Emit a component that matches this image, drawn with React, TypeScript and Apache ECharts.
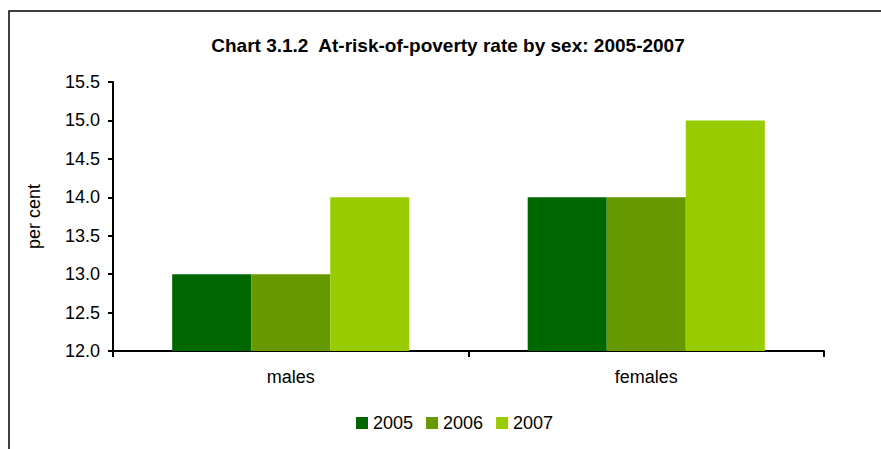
import React, { useEffect, useRef } from "react";
import * as echarts from "echarts";

const categories = ["males", "females"];
const years = ["2005", "2006", "2007"];
const values2005 = [13.0, 14.0];
const values2006 = [13.0, 14.0];
const values2007 = [14.0, 15.0];
const colors = ["#006600", "#669900", "#99CC00"];
const FONT = "'Liberation Sans', Arial, sans-serif";

export default function App() {
  const ref = useRef<HTMLDivElement>(null);
  useEffect(() => {
    if (!ref.current) return;
    const chart = echarts.init(ref.current, null, { renderer: "svg" });
    const seriesData = [values2005, values2006, values2007];
    chart.setOption({
      animation: false,
      backgroundColor: "#ffffff",
      textStyle: { fontFamily: FONT },
      title: {
        text: "Chart 3.1.2  At-risk-of-poverty rate by sex: 2005-2007",
        left: 443,
        top: 31,
        textAlign: "center",
        textStyle: { fontFamily: FONT, fontSize: 19, fontWeight: "bold", color: "#000" },
      },
      graphic: [
        {
          type: "rect",
          shape: { x: 9, y: 11, width: 1000, height: 1000 },
          style: { fill: "none", stroke: "#000", lineWidth: 1.5 },
          silent: true,
          z: -1,
        },
      ],
      legend: {
        data: years,
        bottom: 12,
        left: 351,
        icon: "rect",
        itemWidth: 12,
        itemHeight: 12,
        itemGap: 13,
        textStyle: { fontFamily: FONT, fontSize: 18, color: "#000" },
      },
      grid: { left: 113, right: 57, top: 82, bottom: 98 },
      xAxis: {
        type: "category",
        data: categories,
        axisLine: { lineStyle: { color: "#000", width: 2 } },
        axisTick: { show: true, length: 6, lineStyle: { color: "#000", width: 2 } },
        axisLabel: { fontFamily: FONT, fontSize: 18, color: "#000", margin: 17 },
      },
      yAxis: {
        type: "value",
        min: 12,
        max: 15.5,
        interval: 0.5,
        name: "per cent",
        nameLocation: "middle",
        nameGap: 70,
        nameRotate: 90,
        nameTextStyle: { fontFamily: FONT, fontSize: 18, color: "#000" },
        axisLine: { show: true, lineStyle: { color: "#000", width: 2 } },
        axisTick: { show: true, length: 5, lineStyle: { color: "#000", width: 2 } },
        splitLine: { show: false },
        axisLabel: {
          fontFamily: FONT,
          fontSize: 18,
          color: "#000",
          margin: 13,
          formatter: (v: number) => v.toFixed(1),
        },
      },
      series: years.map((y, i) => ({
        name: y,
        type: "bar",
        data: seriesData[i],
        itemStyle: { color: colors[i] },
        barGap: "0%",
        barCategoryGap: "33.3%",
      })),
    });
    return () => chart.dispose();
  }, []);
  return (
    <div
      ref={ref}
      style={{ position: "fixed", left: 0, top: 0, width: 881, height: 449 }}
    />
  );
}
